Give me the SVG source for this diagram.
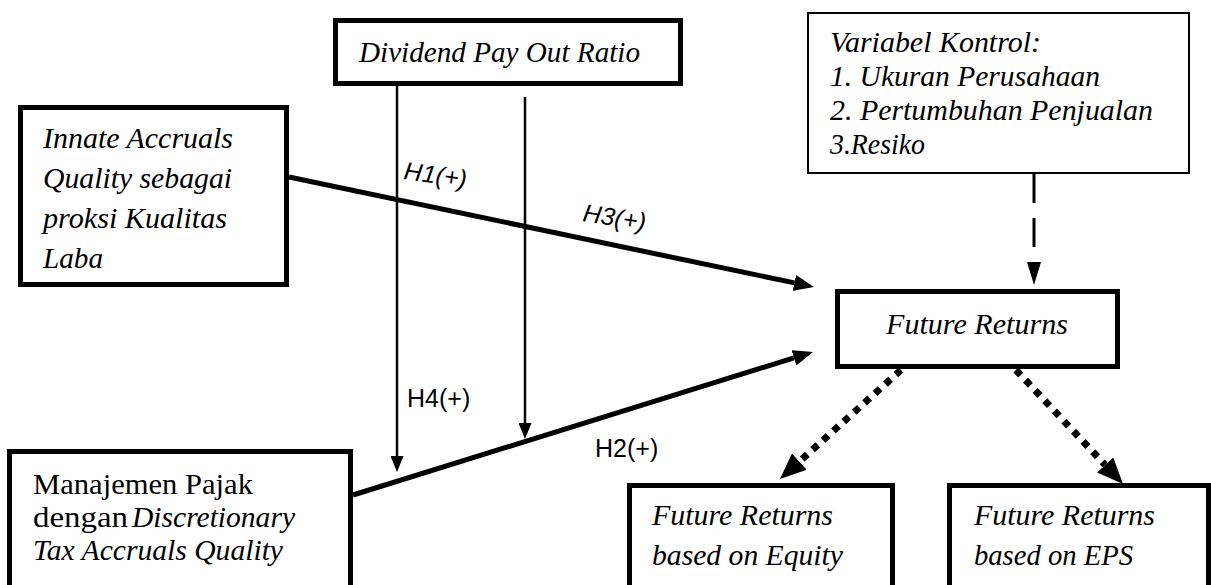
<svg xmlns="http://www.w3.org/2000/svg" width="1211" height="585" viewBox="0 0 1211 585">
<style>
.box{fill:#fff;stroke:#000;stroke-width:5}
.thin{fill:#fff;stroke:#000;stroke-width:2}
.t{font-family:"Liberation Serif",serif;font-size:29px;fill:#000}
.i{font-style:italic}
.h{font-family:"Liberation Sans",sans-serif;font-size:25px;fill:#000}
.line{stroke:#000;fill:none}
</style>
<defs>
<marker id="aThick" markerUnits="userSpaceOnUse" markerWidth="20" markerHeight="16" refX="0" refY="8" orient="auto"><path d="M0,0 L20,8 L0,16 z" fill="#000"/></marker>
<marker id="aThin" markerUnits="userSpaceOnUse" markerWidth="16" markerHeight="13" refX="0" refY="6.5" orient="auto"><path d="M0,0 L16,6.5 L0,13 z" fill="#000"/></marker>
<marker id="aDash" markerUnits="userSpaceOnUse" markerWidth="23" markerHeight="14" refX="0" refY="7" orient="auto"><path d="M0,0 L23,7 L0,14 z" fill="#000"/></marker>
<marker id="aDot" markerUnits="userSpaceOnUse" markerWidth="26" markerHeight="22" refX="0" refY="11" orient="auto"><path d="M0,0 L26,11 L0,22 z" fill="#000"/></marker>
</defs>
<rect width="1211" height="585" fill="#fff"/>
<g id="connectors">
<line class="line" x1="289" y1="177" x2="794.4" y2="282.9" stroke-width="5" marker-end="url(#aThick)"/>
<line class="line" x1="353" y1="495" x2="793.9" y2="357.9" stroke-width="5" marker-end="url(#aThick)"/>
<line class="line" x1="397" y1="86" x2="397" y2="456" stroke-width="2.5" marker-end="url(#aThin)"/>
<line class="line" x1="525" y1="97" x2="525" y2="423" stroke-width="2.5" marker-end="url(#aThin)"/>
<line class="line" x1="1034" y1="174" x2="1034" y2="262" stroke-width="3" stroke-dasharray="29 15" marker-end="url(#aDash)"/>
<line class="line" x1="901" y1="370" x2="799.3" y2="461.6" stroke-width="7" stroke-dasharray="7 7" marker-end="url(#aDot)"/>
<line class="line" x1="1016" y1="370" x2="1105.2" y2="465" stroke-width="7" stroke-dasharray="7 7" marker-end="url(#aDot)"/>
<text class="h i" x="403" y="179" transform="rotate(8 403 179)">H1(+)</text>
<text class="h i" x="582" y="221" transform="rotate(9 582 221)">H3(+)</text>
<text class="h" x="407" y="407">H4(+)</text>
<text class="h" x="595" y="457">H2(+)</text>
</g>
<g id="dividend">
<rect class="box" x="335.5" y="20.5" width="345" height="63"/>
<text class="t i" x="359" y="62" textLength="281" lengthAdjust="spacingAndGlyphs">Dividend Pay Out Ratio</text>
</g>
<g id="innate">
<rect class="box" x="20.5" y="107.5" width="266" height="177"/>
<text class="t i" x="43" y="148" textLength="190" lengthAdjust="spacingAndGlyphs">Innate Accruals</text>
<text class="t i" x="43" y="188" textLength="189" lengthAdjust="spacingAndGlyphs">Quality sebagai</text>
<text class="t i" x="43" y="228" textLength="184" lengthAdjust="spacingAndGlyphs">proksi Kualitas</text>
<text class="t i" x="43" y="268" textLength="60" lengthAdjust="spacingAndGlyphs">Laba</text>
</g>
<g id="kontrol">
<rect class="thin" x="808" y="13" width="381" height="160"/>
<text class="t i" x="830" y="52" textLength="211" lengthAdjust="spacingAndGlyphs">Variabel Kontrol:</text>
<text class="t i" x="830" y="86" textLength="270" lengthAdjust="spacingAndGlyphs">1. Ukuran Perusahaan</text>
<text class="t i" x="830" y="120" textLength="323" lengthAdjust="spacingAndGlyphs">2. Pertumbuhan Penjualan</text>
<text class="t i" x="830" y="154" textLength="95" lengthAdjust="spacingAndGlyphs">3.Resiko</text>
</g>
<g id="future">
<rect class="box" x="837.5" y="291.5" width="280" height="75"/>
<text class="t i" x="886" y="334" textLength="182" lengthAdjust="spacingAndGlyphs">Future Returns</text>
</g>
<g id="equity">
<rect class="box" x="629.5" y="485.5" width="263" height="120"/>
<text class="t i" x="652" y="525" textLength="181" lengthAdjust="spacingAndGlyphs">Future Returns</text>
<text class="t i" x="652" y="565" textLength="191" lengthAdjust="spacingAndGlyphs">based on Equity</text>
</g>
<g id="eps">
<rect class="box" x="949.5" y="485.5" width="259" height="120"/>
<text class="t i" x="974" y="525" textLength="181" lengthAdjust="spacingAndGlyphs">Future Returns</text>
<text class="t i" x="974" y="565" textLength="159" lengthAdjust="spacingAndGlyphs">based on EPS</text>
</g>
<g id="pajak">
<rect class="box" x="9.5" y="451.5" width="341" height="150"/>
<text class="t" x="33" y="494" textLength="220" lengthAdjust="spacingAndGlyphs">Manajemen Pajak</text>
<text class="t" x="33" y="527" textLength="95" lengthAdjust="spacingAndGlyphs">dengan</text>
<text class="t i" x="132" y="527" textLength="163" lengthAdjust="spacingAndGlyphs">Discretionary</text>
<text class="t i" x="33" y="560" textLength="250" lengthAdjust="spacingAndGlyphs">Tax Accruals Quality</text>
</g>
</svg>
